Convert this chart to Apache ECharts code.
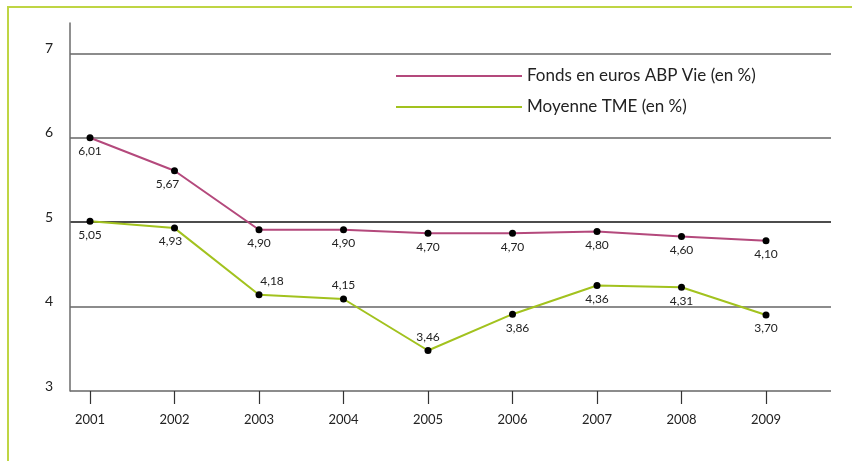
<!DOCTYPE html>
<html>
<head>
<meta charset="utf-8">
<style>
  html, body { margin: 0; padding: 0; background: #fff; }
  #chart { width: 852px; height: 461px; }
</style>
<script src="https://cdn.jsdelivr.net/npm/echarts@6/dist/echarts.min.js"></script>
</head>
<body>
<div id="chart"></div>
<script>
// données
var years = ['2001', '2002', '2003', '2004', '2005', '2006', '2007', '2008', '2009'];
var fondsValues = [6.00, 5.61, 4.91, 4.91, 4.87, 4.87, 4.89, 4.83, 4.78];
var fondsLabels = ['6,01', '5,67', '4,90', '4,90', '4,70', '4,70', '4,80', '4,60', '4,10'];
var tmeValues = [5.01, 4.93, 4.14, 4.09, 3.48, 3.91, 4.25, 4.23, 3.90];
var tmeLabels = ['5,05', '4,93', '4,18', '4,15', '3,46', '3,86', '4,36', '4,31', '3,70'];
var yTicks = [3, 4, 5, 6, 7];

var FONT = 'Lato, "Open Sans", sans-serif';
var PINK = '#b4497c';
var GREEN = '#a2c21e';

// petits décalages des étiquettes (position dans le dessin)
var fondsShift = { '2002': [-7, 0] };
var tmeShift = { '2002': [-4, 0], '2003': [13, 0], '2006': [5, 0] };
var tmeAbove = ['2003', '2004', '2005'];

function buildData(values, labels, shift, above) {
	var out = [];
	for (var i = 0; i < values.length; i++) {
		var y = years[i];
		var up = above && above.includes(y);
		out.push({
			value: values[i],
			label: {
				formatter: labels[i],
				position: up ? 'top' : 'bottom',
				distance: 4,
				offset: shift[y] || [0, 0]
			}
		});
	}
	return out;
}

var myChart = echarts.init(document.getElementById('chart'));
var option = {
	backgroundColor: '#fff',
	animation: false,
	graphic: [{
		type: 'rect',
		shape: { x: 8, y: 7, width: 900, height: 500 },
		style: { fill: 'none', stroke: '#bfd544', lineWidth: 2 },
		z: -1
	}],
	legend: {
		orient: 'vertical',
		left: 391,
		top: 58,
		icon: 'rect',
		itemWidth: 126,
		itemHeight: 2,
		itemGap: 5,
		textStyle: { fontFamily: FONT, fontSize: 17, color: '#222', lineHeight: 18, padding: [0, 0, 8, 0] },
		data: []
	},
	grid: [
		{ left: 70, right: 21, top: 23, bottom: 70 },
		{ left: 90, right: 86, top: 23, bottom: 70 }
	],
	xAxis: [
		{ type: 'value', gridIndex: 0, min: 0, max: 1, show: false },
		{
			type: 'category', gridIndex: 1, data: years, boundaryGap: false,
			axisLine: { show: false },
			axisTick: { show: true, length: 13, lineStyle: { color: '#333', width: 1.2 } },
			axisLabel: { fontFamily: FONT, fontSize: 13, color: '#222', margin: 22, verticalAlign: 'top' }
		}
	],
	yAxis: [
		{
			type: 'value', gridIndex: 0, min: yTicks[0], max: 7.36, interval: 1,
			axisLine: { show: true, onZero: false, lineStyle: { color: '#6b6b6b', width: 1.5 } },
			axisTick: { show: false },
			axisLabel: {
				fontFamily: FONT, fontSize: 14, color: '#222', margin: 17,
				verticalAlign: 'bottom', lineHeight: 10, showMaxLabel: false,
				formatter: function (v) { return yTicks.includes(v) ? String(v) : ''; }
			},
			splitLine: {
				show: true, showMinLine: true, showMaxLine: false,
				lineStyle: { color: ['#666', '#666', '#111', '#666', '#666'], width: 1.5 }
			}
		},
		{ type: 'value', gridIndex: 1, min: yTicks[0], max: 7.36, show: false }
	],
	series: [
		{
			name: 'Fonds en euros ABP Vie (en %)',
			type: 'line', xAxisIndex: 1, yAxisIndex: 1,
			data: buildData(fondsValues, fondsLabels, fondsShift, null),
			lineStyle: { color: PINK, width: 2 },
			itemStyle: { color: '#000' },
			symbol: 'circle', symbolSize: 7,
			label: { show: true, fontFamily: FONT, fontSize: 12, color: '#222' },
			z: 3
		},
		{
			name: 'Moyenne TME (en %)',
			type: 'line', xAxisIndex: 1, yAxisIndex: 1,
			data: buildData(tmeValues, tmeLabels, tmeShift, tmeAbove),
			lineStyle: { color: GREEN, width: 2 },
			itemStyle: { color: '#000' },
			symbol: 'circle', symbolSize: 7,
			label: { show: true, fontFamily: FONT, fontSize: 12, color: '#222' },
			z: 3
		}
	]
};
// la légende prend la couleur des lignes
option.legend.data = [
	{ name: 'Fonds en euros ABP Vie (en %)', itemStyle: { color: PINK } },
	{ name: 'Moyenne TME (en %)', itemStyle: { color: GREEN } }
];
myChart.setOption(option);
</script>
</body>
</html>
